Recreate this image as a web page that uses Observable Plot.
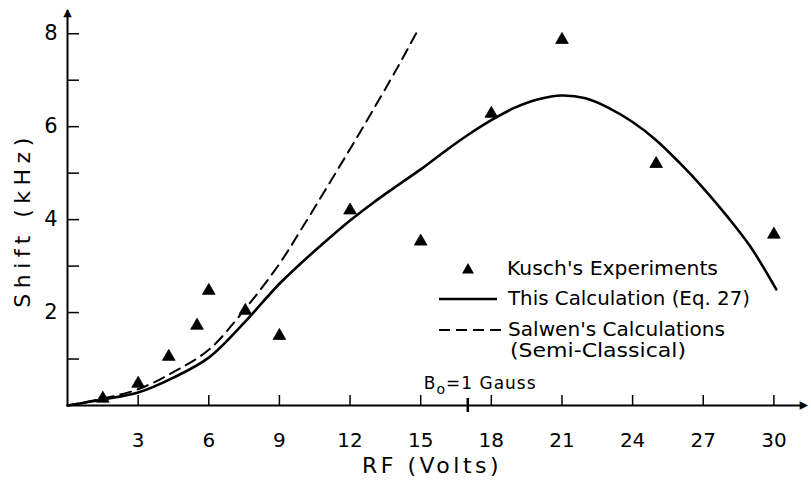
<!DOCTYPE html>
<html><head><meta charset="utf-8">
<script src="https://cdn.jsdelivr.net/npm/d3@7"></script>
<script src="https://cdn.jsdelivr.net/npm/@observablehq/plot@0.6"></script>
<style>
body{margin:0;background:#fff;}
#wrap{position:relative;width:811px;height:480px;font-family:"DejaVu Sans",sans-serif;color:#000;}
#legend{position:absolute;left:0;top:0;pointer-events:none;}
</style></head><body><div id="wrap"></div>
<script>
// Kusch's experiments (triangles)
const kuschRF    = [1.5, 3.0, 4.3, 5.5, 6.0, 7.55, 9.0, 12.0, 15.0, 18.0, 21.0, 25.0, 30.0];
const kuschShift = [0.15, 0.47, 1.05, 1.72, 2.47, 2.04, 1.5, 4.2, 3.53, 6.28, 7.87, 5.2, 3.68];
// This calculation (Eq. 27) – solid curve
const thisRF    = [0, 1.5, 3, 4.5, 6, 7.5, 9, 10, 11, 12, 13, 14, 15, 16, 17, 18, 19, 20, 21, 22, 23, 24, 25, 26, 27, 28, 29, 30.1];
const thisShift = [0, 0.13, 0.28, 0.6, 1.03, 1.78, 2.62, 3.1, 3.55, 3.98, 4.37, 4.73, 5.08, 5.46, 5.82, 6.14, 6.41, 6.59, 6.67, 6.61, 6.4, 6.1, 5.71, 5.22, 4.68, 4.08, 3.42, 2.5];
// Salwen's calculations (semi-classical) – dashed curve
const salwenRF    = [0, 1.5, 3, 4.5, 6, 7.5, 9, 10, 11, 12, 13, 14, 14.85];
const salwenShift = [0, 0.15, 0.35, 0.72, 1.2, 2.05, 3.05, 3.85, 4.68, 5.52, 6.38, 7.26, 8.05];
// axes
const xTicks = [3, 6, 9, 12, 15, 18, 21, 24, 27, 30];
const yTicks = [2, 4, 6, 8];
const yMinor = [1, 2, 3, 4, 5, 6, 7, 8];
const xMax = 31.3, yMax = 8.5;
const bFieldRF = [17];
const bFieldLabel = "B\u2080=1 Gauss";
const xLabel = "RF (Volts)";
const yLabel = "Shift (kHz)";
const legendLabels = ["Kusch's Experiments", "This Calculation (Eq. 27)", "Salwen's Calculations", "(Semi-Classical)"];

const fam = "'DejaVu Sans', sans-serif";
const chart = Plot.plot({
  width: 811, height: 480,
  marginLeft: 67, marginRight: 7, marginTop: 10, marginBottom: 75,
  x: {domain: [0, xMax]},
  y: {domain: [0, yMax]},
  style: {fontFamily: fam, background: "white", color: "black", overflow: "visible"},
  marks: [
    Plot.ruleY([0], {stroke: "black", strokeWidth: 2}),
    Plot.ruleX([0], {stroke: "black", strokeWidth: 2}),
    Plot.axisY(yMinor, {tickSize: -12, tickFormat: () => "", label: null, strokeWidth: 1.5}),
    Plot.axisY(yTicks, {tickSize: 0, tickPadding: 10, fontSize: 21, label: null}),
    Plot.axisX(xTicks, {tickSize: -10, tickFormat: () => "", label: null, strokeWidth: 1.5}),
    Plot.axisX(xTicks, {tickSize: 0, tickPadding: 27, fontSize: 20, label: null}),
    Plot.axisX(bFieldRF, {tickSize: 7, tickFormat: () => "", label: null, strokeWidth: 2.5}),
    Plot.axisX(bFieldRF, {tickSize: -7, tickFormat: () => "", label: null, strokeWidth: 2.5}),
    Plot.text(["▲"], {x: 0, y: yMax, fontSize: 11, lineAnchor: "middle", dy: 2}),
    Plot.text(["▲"], {x: xMax, y: 0, fontSize: 11, rotate: 90, lineAnchor: "middle"}),
    Plot.line(salwenRF, {x: salwenRF, y: salwenShift, curve: "catmull-rom", stroke: "black", strokeWidth: 2, strokeDasharray: "11,7"}),
    Plot.line(thisRF, {x: thisRF, y: thisShift, curve: "catmull-rom", stroke: "black", strokeWidth: 2.6}),
    Plot.dot(kuschRF, {x: kuschRF, y: kuschShift, symbol: "triangle", r: 4.7, fill: "black", stroke: "black", strokeWidth: 0.8}),
    Plot.text(bFieldRF, {x: d => d, y: 0, text: () => bFieldLabel, fontSize: 17, textAnchor: "start", lineAnchor: "bottom", dx: -44, dy: -17}),
    Plot.text([xLabel], {frameAnchor: "bottom", dy: 60, dx: -4, fontSize: 22, lineAnchor: "middle", textAnchor: "middle"}),
    Plot.text([yLabel], {frameAnchor: "left", dx: -45, dy: 12, rotate: -90, fontSize: 22, lineAnchor: "middle", textAnchor: "middle"})
  ]
});
const wrap = document.getElementById("wrap");
wrap.appendChild(chart);
d3.select(chart).selectAll("text").each(function() {
  const t = this.textContent;
  if (t === yLabel) this.setAttribute("letter-spacing", "5.5");
  if (t === xLabel) this.setAttribute("letter-spacing", "3.5");
  if (t === bFieldLabel) {
    const s = d3.select(this); s.text(null).attr("letter-spacing", "1");
    s.append("tspan").text("B");
    s.append("tspan").attr("dy", 5).attr("font-size", 14).text("o");
    s.append("tspan").attr("dy", -5).text("=1 Gauss");
  }
});

// legend overlay
const leg = d3.select(wrap).append("svg").attr("id", "legend").attr("width", 811).attr("height", 480)
  .style("font-family", fam).style("font-size", "19px");
leg.append("path").attr("d", d3.symbol(d3.symbolTriangle, 62)()).attr("transform", "translate(468,270)").attr("fill", "black");
leg.append("line").attr("x1", 439).attr("x2", 497).attr("y1", 299).attr("y2", 299).attr("stroke", "black").attr("stroke-width", 2.4);
leg.append("line").attr("x1", 439).attr("x2", 502).attr("y1", 330).attr("y2", 330).attr("stroke", "black").attr("stroke-width", 2).attr("stroke-dasharray", "11,6");
const legPos = [[507, 275, 211], [508, 305, 242], [508, 336, 217], [510, 357, 176]];
legendLabels.forEach((t, i) => {
  leg.append("text").attr("x", legPos[i][0]).attr("y", legPos[i][1])
    .attr("textLength", legPos[i][2]).attr("lengthAdjust", "spacingAndGlyphs").text(t);
});
</script></body></html>
